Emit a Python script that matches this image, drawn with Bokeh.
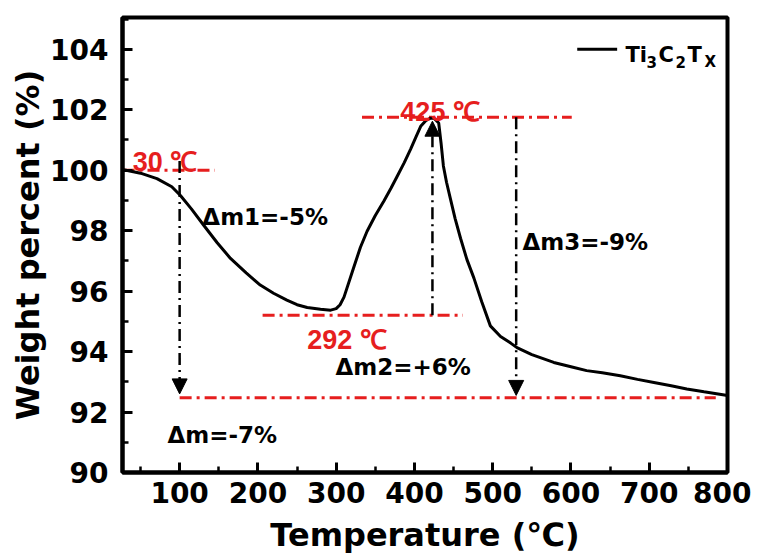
from bokeh.plotting import figure
from bokeh.models import Range1d, Label, Arrow, NormalHead, FixedTicker
from bokeh.embed import file_html
from bokeh.resources import INLINE

# ---- data ----
temperature_c = [27, 50, 71, 90, 101, 115, 131, 148, 165, 185, 203, 220, 237, 250, 263,
                 280, 293, 300, 305, 310, 322, 331, 339.5, 350, 361, 370, 378, 387, 395,
                 402, 408, 415, 420.5, 425, 431, 434, 437, 441, 446, 452, 459, 467, 476,
                 486, 497, 510, 523, 531, 550, 578, 600, 620, 640, 663, 685, 706, 728,
                 748, 770, 800]
weight_pct = [100.02, 99.9, 99.72, 99.45, 99.16, 98.72, 98.17, 97.6, 97.08, 96.6, 96.2,
              95.93, 95.7, 95.55, 95.46, 95.4, 95.37, 95.42, 95.55, 95.8, 96.75, 97.45,
              97.98, 98.5, 98.98, 99.4, 99.8, 100.25, 100.69, 101.1, 101.45, 101.65,
              101.72, 101.72, 101.56, 100.9, 100.14, 99.6, 99.05, 98.4, 97.74, 97.05,
              96.43, 95.65, 94.85, 94.5, 94.28, 94.13, 93.9, 93.64, 93.5, 93.37, 93.3,
              93.2, 93.08, 92.98, 92.87, 92.76, 92.67, 92.55]

x_major = [100, 200, 300, 400, 500, 600, 700, 800]
x_minor = [50, 100, 150, 200, 250, 300, 350, 400, 450, 500, 550, 600, 650, 700, 750, 800]
y_major = [90, 92, 94, 96, 98, 100, 102, 104]
y_minor = [91, 92, 93, 94, 95, 96, 97, 98, 99, 100, 101, 102, 103, 104, 105]

# reference levels (red dash-dot lines): level, x from, x to
red_level = [100.0, 101.75, 95.2, 92.47]
red_x0 = [27, 333, 206, 100]
red_x1 = [145, 601, 462, 785]

# vertical arrows: x, y start, y end
arrow_x = [100, 423, 530]
arrow_y0 = [100.3, 95.2, 101.75]
arrow_y1 = [92.6, 101.62, 92.55]

red_labels = ["30 \u2103", "425 \u2103", "292 \u2103"]
red_label_x = [40, 382, 263]
red_label_y = [100.26, 101.93, 94.39]

dm_labels = ["\u0394m1=-5%", "\u0394m2=+6%", "\u0394m3=-9%", "\u0394m=-7%"]
dm_label_x = [129, 299, 538, 84.5]
dm_label_y = [98.46, 93.48, 97.64, 91.25]

legend_text = ["Ti", "3", "C", "2", "T", "X"]

RED = "#e61e1e"

p = figure(width=751, height=556,
           x_range=Range1d(27, 800), y_range=Range1d(90, 105.05),
           output_backend="svg", toolbar_location=None,
           min_border_left=122, min_border_right=24,
           min_border_top=17, min_border_bottom=79)

p.xgrid.visible = False
p.ygrid.visible = False
p.outline_line_color = "black"
p.outline_line_width = 4
p.background_fill_color = "white"
p.border_fill_color = "white"

p.xaxis.ticker = FixedTicker(ticks=x_major, minor_ticks=x_minor)
p.yaxis.ticker = FixedTicker(ticks=y_major, minor_ticks=y_minor)

for ax in (p.xaxis, p.yaxis):
    ax.axis_line_width = 4
    ax.axis_line_color = "black"
    ax.major_tick_in = 10
    ax.major_tick_out = 0
    ax.major_tick_line_width = 3
    ax.minor_tick_in = 6
    ax.minor_tick_out = 0
    ax.minor_tick_line_width = 2.5
    ax.major_label_text_font = "DejaVu Sans"
    ax.major_label_text_font_style = "bold"
    ax.major_label_text_font_size = "28px"
    ax.major_label_text_color = "black"
    ax.axis_label_text_font = "DejaVu Sans"
    ax.axis_label_text_font_style = "bold"
    ax.axis_label_text_font_size = "32px"
    ax.axis_label_text_color = "black"

p.xaxis.axis_label = "Temperature (\u2103)"
p.yaxis.axis_label = "Weight percent (%)"
p.xaxis.major_label_standoff = 9
p.yaxis.major_label_standoff = 14
p.xaxis.axis_label_standoff = 10
p.yaxis.axis_label_standoff = 0

# red dash-dot reference lines
for lvl, a, b in zip(red_level, red_x0, red_x1):
    p.line([a, b], [lvl, lvl], line_color=RED, line_width=3, line_dash="12 5 3 5")

# black dash-dot arrows
for ax_, y0, y1 in zip(arrow_x, arrow_y0, arrow_y1):
    p.add_layout(Arrow(end=NormalHead(size=15, fill_color="black", line_color="black", line_width=1),
                       x_start=ax_, y_start=y0, x_end=ax_, y_end=y1,
                       line_color="black", line_width=2.5, line_dash="12 5 2 5"))

# TGA curve
p.line(temperature_c, weight_pct, line_color="black", line_width=3)

for t, x, y in zip(red_labels, red_label_x, red_label_y):
    p.add_layout(Label(x=x, y=y, text=t, text_color=RED, text_font="Liberation Sans",
                       text_font_style="bold", text_font_size="27px", text_baseline="alphabetic"))

for t, x, y in zip(dm_labels, dm_label_x, dm_label_y):
    p.add_layout(Label(x=x, y=y, text=t, text_color="black", text_font="DejaVu Sans",
                       text_font_style="bold", text_font_size="23px", text_baseline="alphabetic"))

# legend: sample line + Ti3C2TX with subscripts
p.add_layout(Arrow(end=None, start=None, x_start=608, y_start=104.0, x_end=659, y_end=104.0,
                   line_color="black", line_width=3))
legend_x = [669.6, 696.5, 711.8, 733.5, 748.9, 770.6]
legend_y = [103.8, 103.58, 103.8, 103.58, 103.8, 103.58]
legend_fs = ["21px", "15px", "21px", "15px", "21px", "15px"]
for t, x, y, fs in zip(legend_text, legend_x, legend_y, legend_fs):
    p.add_layout(Label(x=x, y=y, text=t, text_color="black", text_font="DejaVu Sans",
                       text_font_style="bold", text_font_size=fs, text_baseline="alphabetic"))

open("out.html", "w").write(file_html(p, INLINE))
